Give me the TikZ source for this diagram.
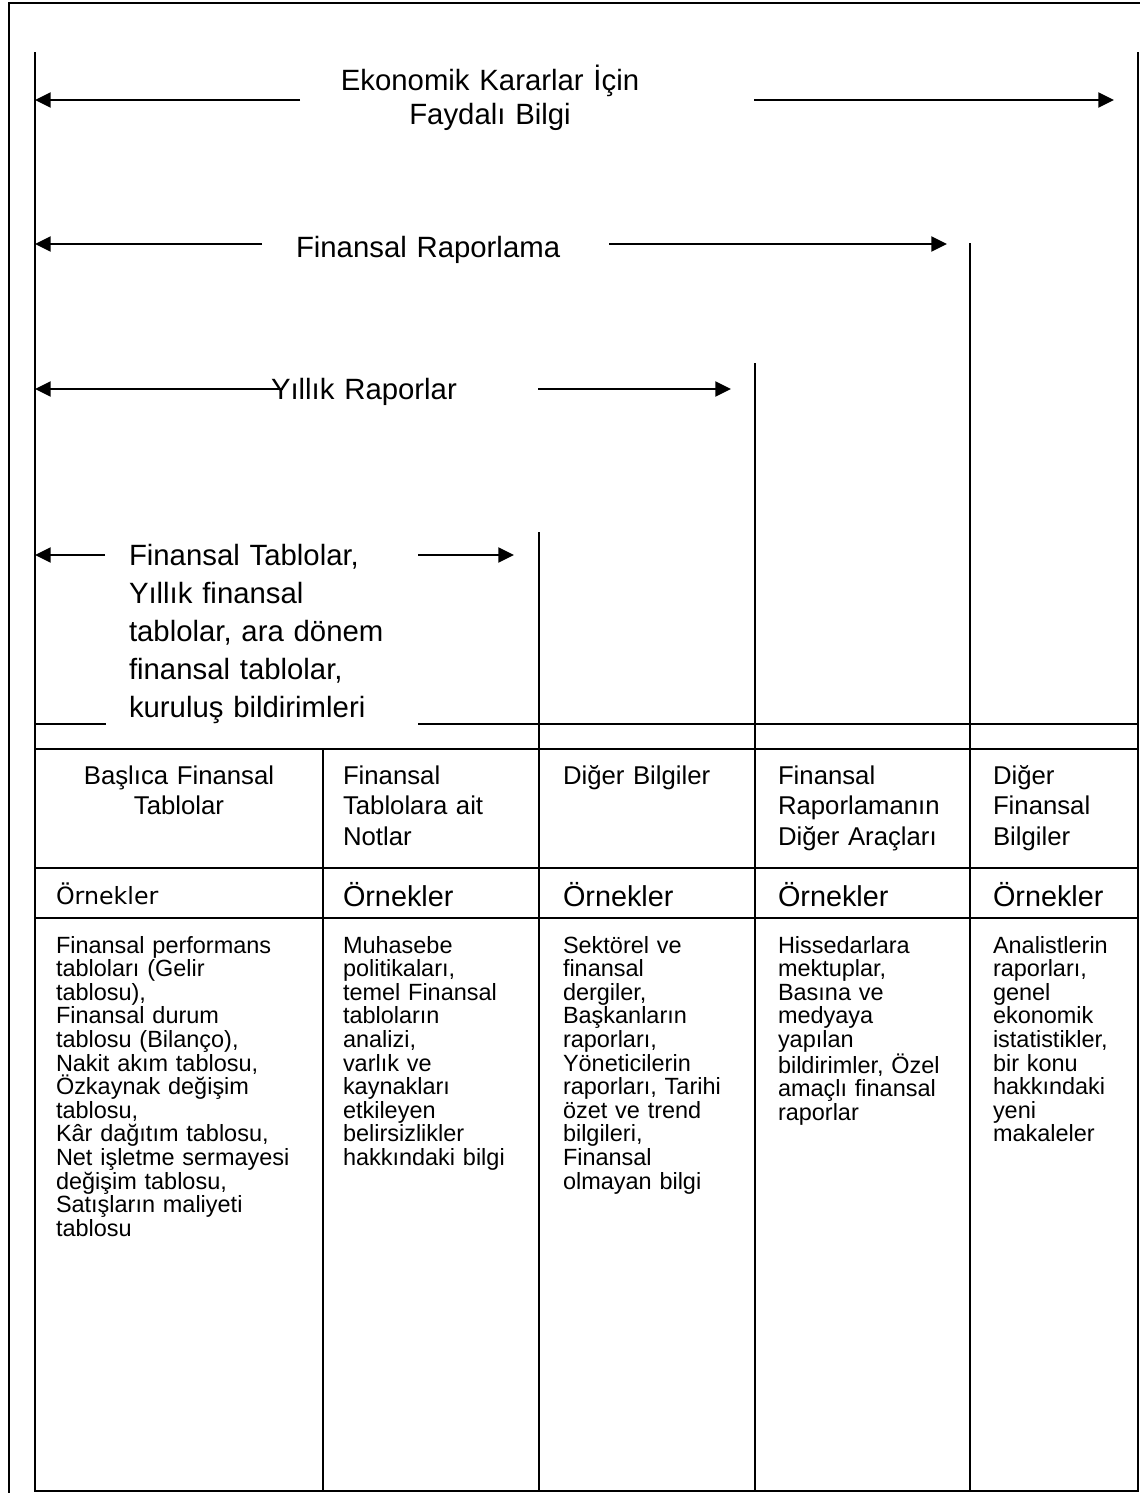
\documentclass[tikz,border=0pt]{standalone}
\usepackage{fontspec}
\setmainfont{Liberation Sans}
\newfontfamily\ornfont{DejaVu Sans}
\usetikzlibrary{arrows.meta}

\begin{document}
\begin{tikzpicture}[x=0.75pt,y=-0.75pt,line width=1.5pt,
  arr/.style={-{Triangle[length=11.8pt,width=11.3pt]}},
  big/.style={font=\fontsize{22}{25.5}\selectfont,inner sep=0,text width=320pt},
  block/.style={font=\fontsize{22}{28.5}\selectfont,inner sep=0,text width=240pt,align=left,anchor=base west},
  head/.style={font=\fontsize{19.3}{23}\selectfont,inner sep=0,text width=200pt,align=left,anchor=base west},
  body/.style={font=\fontsize{17.6}{17.7}\selectfont,inner sep=0,text width=200pt,align=left,anchor=base west},
  ex/.style={font=\fontsize{21.6}{24}\selectfont,inner sep=0,anchor=base west}]
  \useasboundingbox (0,0) rectangle (1140,1493);

  % frame
  \draw (9,1493) -- (9,3) -- (1140,3);
  \draw (35,52) -- (35,1491) -- (1138,1491) -- (1138,52);
  \draw (970,243) -- (970,1491);
  \draw (755,363) -- (755,1491);
  \draw (539,532) -- (539,1491);
  \draw (323,749) -- (323,1491);
  \draw (35,724) -- (106,724) (418,724) -- (1138,724);
  \foreach \y in {749,868,918}
    \draw (35,\y) -- (1138,\y);

  % levels
  \node[big,align=center,anchor=base] (ekon) at (490,90) {Ekonomik Kararlar İçin\\Faydalı Bilgi};
  \node[big,align=left,anchor=base west] (finrap) at (295,257) {Finansal Raporlama};
  \node[big,align=left,anchor=base west] (yillik) at (270,399) {Yıllık Raporlar};
  \node[block] (fintab) at (128,565) {Finansal Tablolar,\\Yıllık finansal\\tablolar, ara dönem\\finansal tablolar,\\kuruluş bildirimleri};

  \coordinate (ekonL) at (300,100);  \coordinate (ekonLt) at (35,100);
  \coordinate (ekonR) at (754,100);  \coordinate (ekonRt) at (1114,100);
  \coordinate (finrapL) at (262,244); \coordinate (finrapLt) at (35,244);
  \coordinate (finrapR) at (609,244); \coordinate (finrapRt) at (947,244);
  \coordinate (yillikL) at (283,389); \coordinate (yillikLt) at (35,389);
  \coordinate (yillikR) at (538,389); \coordinate (yillikRt) at (731,389);
  \coordinate (fintabL) at (105,555); \coordinate (fintabLt) at (35,555);
  \coordinate (fintabR) at (418,555); \coordinate (fintabRt) at (514,555);

  \draw[arr] (ekonL) -- (ekonLt);
  \draw[arr] (ekonR) -- (ekonRt);
  \draw[arr] (finrapL) -- (finrapLt);
  \draw[arr] (finrapR) -- (finrapRt);
  \draw[arr] (yillikL) -- (yillikLt);
  \draw[arr] (yillikR) -- (yillikRt);
  \draw[arr] (fintabL) -- (fintabLt);
  \draw[arr] (fintabR) -- (fintabRt);

  % headers
  \node[head,align=center,anchor=base] (h1) at (179,784) {Başlıca Finansal\\Tablolar};
  \node[head] (h2) at (342,784) {Finansal\\Tablolara ait\\Notlar};
  \node[head] (h3) at (562,784) {Diğer Bilgiler};
  \node[head] (h4) at (777,784) {Finansal\\Raporlamanın\\Diğer Araçları};
  \node[head] (h5) at (992,784) {Diğer\\Finansal\\Bilgiler};

  \node[ex,font=\ornfont\fontsize{17.8}{20}\selectfont] (o1) at (55,904) {Örnekler};
  \node[ex] (o2) at (342,906) {Örnekler};
  \node[ex] (o3) at (562,906) {Örnekler};
  \node[ex] (o4) at (777,906) {Örnekler};
  \node[ex] (o5) at (992,906) {Örnekler};

  % examples
  \node[body] (b1) at (55,953) {Finansal performans\\tabloları (Gelir\\tablosu),\\Finansal durum\\tablosu (Bilanço),\\Nakit akım tablosu,\\Özkaynak değişim\\tablosu,\\Kâr dağıtım tablosu,\\Net işletme sermayesi\\değişim tablosu,\\Satışların maliyeti\\tablosu};
  \node[body] (b2) at (342,953) {Muhasebe\\politikaları,\\temel Finansal\\tabloların\\analizi,\\varlık ve\\kaynakları\\etkileyen\\belirsizlikler\\hakkındaki bilgi};
  \node[body] (b3) at (562,953) {Sektörel ve\\finansal\\dergiler,\\Başkanların\\raporları,\\Yöneticilerin\\raporları, Tarihi\\özet ve trend\\bilgileri,\\Finansal\\olmayan bilgi};
  \node[body] (b4) at (777,953) {Hissedarlara\\mektuplar,\\Basına ve\\medyaya\\yapılan\\bildirimler, Özel\\amaçlı finansal\\raporlar};
  \node[body] (b5) at (992,953) {Analistlerin\\raporları,\\genel\\ekonomik\\istatistikler,\\bir konu\\hakkındaki\\yeni\\makaleler};
\end{tikzpicture}
\end{document}
